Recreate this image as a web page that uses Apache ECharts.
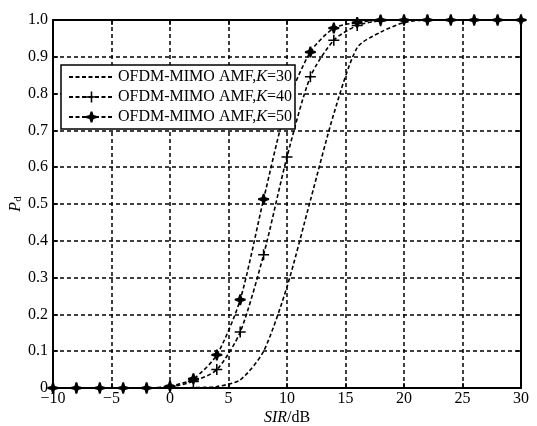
<!DOCTYPE html>
<html style="height: 100%">
  <head>
    <meta charset="utf-8" />
  </head>
  <body style="height: 100%; margin: 0; background: #fff">
    <div id="container" style="width: 537px; height: 426px"></div>
    <script
      type="text/javascript"
      src="https://cdn.jsdelivr.net/npm/echarts@6/dist/echarts.min.js"
    ></script>
    <script type="text/javascript">
      // SIR in dB, one point every 2 dB
      var sir = [-10, -8, -6, -4, -2, 0, 2, 4, 6, 8, 10, 12, 14, 16, 18, 20, 22, 24, 26, 28, 30];
      var pdK30 = [0, 0, 0, 0, 0, 0, 0.001, 0.004, 0.022, 0.1, 0.275, 0.51, 0.745, 0.925, 0.967, 0.993, 1, 1, 1, 1, 1];
      var pdK40 = [0, 0, 0, 0, 0, 0.003, 0.018, 0.05, 0.152, 0.362, 0.628, 0.846, 0.945, 0.985, 0.998, 1, 1, 1, 1, 1, 1];
      var pdK50 = [0, 0, 0, 0, 0, 0.005, 0.025, 0.09, 0.24, 0.513, 0.77, 0.913, 0.978, 0.993, 1, 1, 1, 1, 1, 1, 1];
      var seriesNames = ["K30", "K40", "K50"];
      var legendText = {
        K30: "OFDM-MIMO AMF,{i|K}=30",
        K40: "OFDM-MIMO AMF,{i|K}=40",
        K50: "OFDM-MIMO AMF,{i|K}=50",
      };

      var font = "Liberation Serif";
      var plusPath = "path://M4.3,0H5.7V4.3H10V5.7H5.7V10H4.3V5.7H0V4.3H4.3Z";
      var starPath =
        "path://M4.2,0H5.8L6.8,3.2L10,4.2V5.8L6.8,6.8L5.8,10H4.2L3.2,6.8L0,5.8V4.2L3.2,3.2Z";

      function pairs(ys) {
        return ys.map(function (y, i) {
          return [sir[i], y];
        });
      }

      var dashed = { type: [4, 2.5], width: 1.6, color: "#000" };
      var gridDash = { type: [4, 3], width: 1.5, color: "#000" };
      var axisBlack = { onZero: false, lineStyle: { color: "#000", width: 2 } };
      var tickIn = { inside: true, length: 5, lineStyle: { color: "#000", width: 1.5 } };

      var myChart = echarts.init(document.getElementById("container"));

      var option = {
        animation: false,
        backgroundColor: "#fff",
        grid: {
          left: 53,
          right: 16,
          top: 20,
          bottom: 38,
          containLabel: false,
          outerBoundsMode: "none",
        },
        legend: {
          data: [
            { name: "K30", itemStyle: { color: "rgba(0,0,0,0)", borderWidth: 0 } },
            { name: "K40" },
            { name: "K50" },
          ],
          z: 20,
          orient: "vertical",
          left: 61,
          top: 65,
          padding: [4, 3, 4, 7],
          itemGap: 4,
          itemWidth: 45,
          itemHeight: 14,
          backgroundColor: "#fff",
          borderColor: "#000",
          borderWidth: 1.5,
          borderRadius: 0,
          formatter: function (name) {
            return legendText[name];
          },
          textStyle: {
            fontFamily: font,
            fontSize: 16,
            color: "#000",
            padding: [0, 0, 0, -1],
            rich: { i: { fontFamily: font, fontSize: 16, fontStyle: "italic", color: "#000" } },
          },
        },
        xAxis: [
          {
            type: "value",
            min: -10,
            max: 30,
            interval: 5,
            name: "{i|SIR}/dB",
            nameLocation: "middle",
            nameGap: 22,
            nameMoveOverlap: false,
            nameTextStyle: {
              fontFamily: font,
              fontSize: 16,
              color: "#000",
              rich: { i: { fontFamily: font, fontSize: 16, fontStyle: "italic", color: "#000" } },
            },
            axisLine: axisBlack,
            axisTick: tickIn,
            axisLabel: {
              margin: 3,
              fontFamily: font,
              fontSize: 16,
              color: "#000",
              formatter: function (v) {
                return v < 0 ? "\u2212" + Math.abs(v) : String(v);
              },
            },
            splitLine: { show: true, lineStyle: gridDash },
          },
          {
            type: "value",
            position: "top",
            min: -10,
            max: 30,
            interval: 5,
            axisLine: axisBlack,
            axisTick: tickIn,
            axisLabel: { show: false },
            splitLine: { show: false },
          },
        ],
        yAxis: [
          {
            type: "value",
            min: 0,
            max: 1,
            interval: 0.1,
            name: "{i|P}{s|d}",
            nameLocation: "middle",
            nameGap: 29,
            nameMoveOverlap: false,
            nameRotate: 90,
            nameTextStyle: {
              fontFamily: font,
              color: "#000",
              rich: {
                i: { fontFamily: font, fontSize: 16, fontStyle: "italic", color: "#000" },
                s: { fontFamily: font, fontSize: 11, color: "#000", padding: [6, 0, 0, 0] },
              },
            },
            axisLine: axisBlack,
            axisTick: tickIn,
            axisLabel: {
              margin: 5,
              fontFamily: font,
              fontSize: 16,
              color: "#000",
              formatter: function (v) {
                return v === 0 ? "0" : v.toFixed(1);
              },
            },
            splitLine: { show: true, lineStyle: gridDash },
          },
          {
            type: "value",
            position: "right",
            min: 0,
            max: 1,
            interval: 0.1,
            axisLine: axisBlack,
            axisTick: tickIn,
            axisLabel: { show: false },
            splitLine: { show: false },
          },
        ],
        series: [
          {
            name: "K30",
            type: "line",
            xAxisIndex: 0,
            yAxisIndex: 0,
            data: pairs(pdK30),
            smooth: 0.25,
            showSymbol: false,
            symbol: "none",
            lineStyle: dashed,
            itemStyle: { color: "#000" },
            clip: false,
            z: 3,
          },
          {
            name: "K40",
            type: "line",
            xAxisIndex: 0,
            yAxisIndex: 0,
            data: pairs(pdK40),
            smooth: 0.25,
            symbol: plusPath,
            symbolSize: 11,
            lineStyle: dashed,
            itemStyle: { color: "#000" },
            clip: false,
            z: 4,
          },
          {
            name: "K50",
            type: "line",
            xAxisIndex: 0,
            yAxisIndex: 0,
            data: pairs(pdK50),
            smooth: 0.25,
            symbol: starPath,
            symbolSize: 11,
            lineStyle: dashed,
            itemStyle: { color: "#000" },
            clip: false,
            z: 5,
          },
        ],
      };

      myChart.setOption(option);
    </script>
  </body>
</html>
